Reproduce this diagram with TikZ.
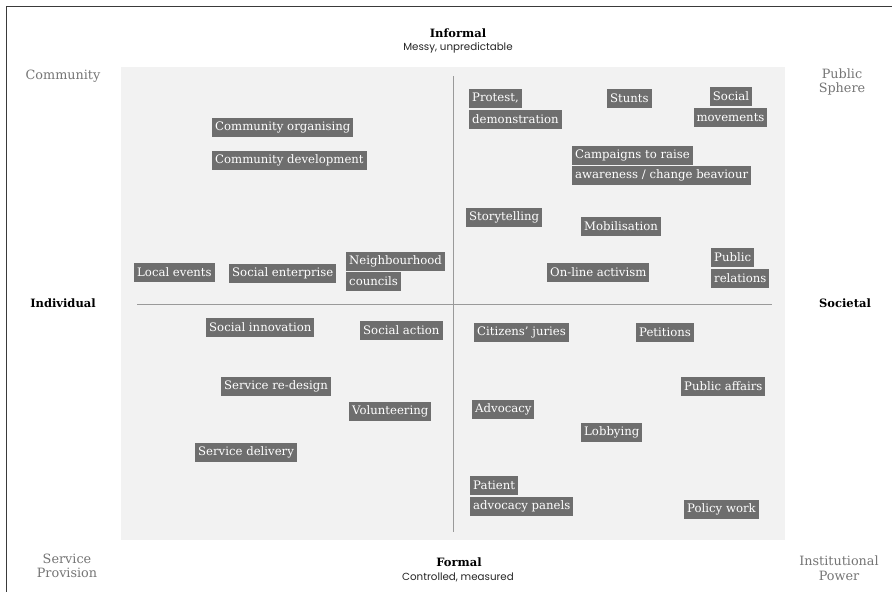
\documentclass[tikz,border=0pt]{standalone}
\usepackage{fontspec}
\setmainfont{DejaVu Serif}
\newfontfamily\subfont{Poppins}
\usepackage{xcolor}
\definecolor{panelgray}{HTML}{F2F2F2}
\definecolor{tagfill}{HTML}{6E6E6E}
\definecolor{axisgray}{HTML}{9A9A9A}
\definecolor{cornergray}{HTML}{757575}
\definecolor{framegray}{HTML}{3A3A3A}
\tikzset{
  tag/.style={fill=tagfill, text=white, font=\fontsize{11.7}{13}\selectfont,
    inner xsep=3pt, inner ysep=0pt, minimum height=19pt, anchor=west},
  axislabel/.style={font=\fontsize{11.5}{13}\selectfont\bfseries, text=black},
  sublabel/.style={font=\subfont\fontsize{10.3}{11}\selectfont, text=black!85},
  corner/.style={font=\fontsize{12.8}{14.5}\selectfont, text=cornergray, align=center}
}
\begin{document}
\begin{tikzpicture}[x=1pt, y=-1pt]

% Rahmen und Hintergrund
\useasboundingbox (0,0) rectangle (892,592);
\fill[white] (0,0) rectangle (892,592);
\draw[framegray, line width=1pt] (892,6) -- (6,6) -- (6,592);
\fill[panelgray] (121,67) rectangle (785,540);

% Achsen
\coordinate (top) at (453,76);
\coordinate (bot) at (453,532);
\coordinate (lft) at (137,304);
\coordinate (rgt) at (772,304);
\draw[axisgray, line width=1pt] (top) -- (bot);
\draw[axisgray, line width=1pt] (lft) -- (rgt);

% Achsenbeschriftungen
\node[axislabel] (informal) at (458,33) {Informal};
\node[sublabel] (messy) at (458,48) {Messy, unpredictable};
\node[axislabel] (formal) at (459,562) {Formal};
\node[sublabel] (controlled) at (458,577) {Controlled, measured};
\node[axislabel] (individual) at (63,303) {Individual};
\node[axislabel] (societal) at (845,303) {Societal};

% Ecken
\node[corner] (community) at (63,76) {Community};
\node[corner] (public) at (842,82) {Public\\Sphere};
\node[corner] (service) at (67,566) {Service\\Provision};
\node[corner] (institution) at (839,568) {Institutional\\Power};

% Oben links
\node[tag] (organising) at (212,127.5) {Community organising};
\node[tag] (development) at (212,160) {Community development};
\node[tag] (events) at (134,272) {Local events};
\node[tag] (enterprise) at (229,273) {Social enterprise};
\node[tag] (neighbour) at (346,261.5) {Neighbourhood};
\node[tag] (councils) at (346,281.5) {councils};

% Oben rechts
\node[tag] (protest) at (469,98.5) {Protest,};
\node[tag] (demo) at (469,119) {demonstration};
\node[tag] (stunts) at (607,98.5) {Stunts};
\node[tag, anchor=center] (social) at (731,96.5) {Social};
\node[tag, anchor=center] (movements) at (730.5,117.5) {movements};
\node[tag] (campaigns) at (572,155) {Campaigns to raise};
\node[tag] (awareness) at (572,175.5) {awareness / change beaviour};
\node[tag] (story) at (466,217.5) {Storytelling};
\node[tag] (mobil) at (581,226) {Mobilisation};
\node[tag] (pubrel) at (711,257.5) {Public};
\node[tag] (relations) at (711,278) {relations};
\node[tag] (online) at (547,272) {On-line activism};

% Unten links
\node[tag] (innovation) at (206,327.5) {Social innovation};
\node[tag] (action) at (360,330.5) {Social action};
\node[tag] (redesign) at (221,386.5) {Service re-design};
\node[tag] (volunteer) at (349,411.5) {Volunteering};
\node[tag] (delivery) at (195,452.5) {Service delivery};

% Unten rechts
\node[tag] (juries) at (474,332.5) {Citizens’ juries};
\node[tag] (petitions) at (636,332.5) {Petitions};
\node[tag] (affairs) at (681,386.5) {Public affairs};
\node[tag] (advocacy) at (472,409.5) {Advocacy};
\node[tag] (lobbying) at (581,432.5) {Lobbying};
\node[tag] (patient) at (470,485.5) {Patient};
\node[tag] (panels) at (470,506.5) {advocacy panels};
\node[tag] (policy) at (684,509.5) {Policy work};

\end{tikzpicture}
\end{document}
